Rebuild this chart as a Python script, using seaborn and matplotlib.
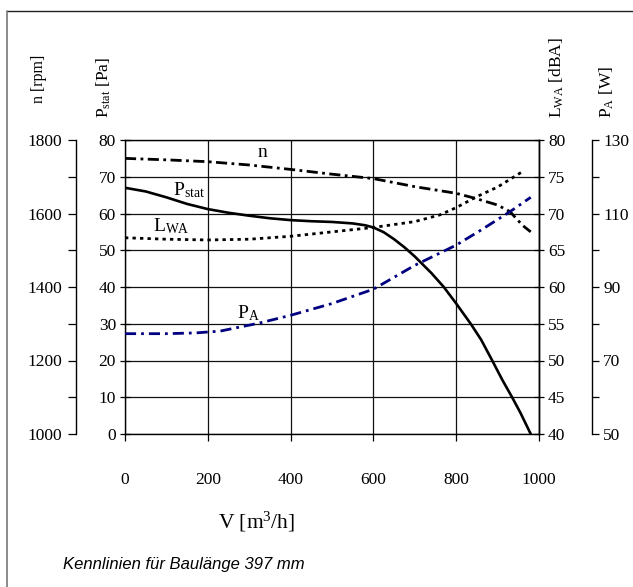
import numpy as np
import pandas as pd
import matplotlib
matplotlib.use("Agg")
import matplotlib.pyplot as plt
from matplotlib.ticker import FixedLocator
from matplotlib.lines import Line2D
import seaborn as sns

# ---------------- data ----------------
V_n = [0, 100, 200, 300, 400, 500, 600, 700, 800, 850, 900, 930, 960, 980]
n_rpm = [1750, 1746, 1741, 1732, 1720, 1707, 1695, 1673, 1655, 1640, 1623, 1605, 1568, 1550]

V_p = [0, 50, 100, 150, 200, 250, 300, 350, 400, 450, 500, 550, 580, 600, 625, 650, 675,
       700, 740, 770, 800, 835, 860, 887, 911, 935, 955, 980]
P_stat = [67.0, 66.0, 64.4, 62.6, 61.2, 60.2, 59.4, 58.7, 58.2, 57.9, 57.7, 57.3, 56.8, 56.2,
          54.9, 53.0, 50.8, 48.3, 43.8, 40.0, 35.5, 30.0, 25.7, 20.0, 14.8, 10.0, 5.8, 0.0]

V_L = [0, 100, 200, 300, 400, 500, 600, 700, 760, 800, 850, 900, 960]
L_WA = [66.7, 66.5, 66.4, 66.5, 66.9, 67.5, 68.1, 68.9, 69.8, 70.8, 72.3, 73.6, 75.7]

V_A = [0, 100, 170, 230, 325, 400, 500, 600, 700, 800, 860, 930, 980]
P_A = [77.3, 77.3, 77.5, 78.0, 80.2, 82.3, 85.5, 89.4, 95.9, 101.4, 105.5, 110.5, 114.4]

x_ticks = [0, 200, 400, 600, 800, 1000]
pstat_ticks = list(range(0, 81, 10))
lwa_ticks = list(range(40, 81, 5))
n_major = [1000, 1200, 1400, 1600, 1800]
n_minor = [1100, 1300, 1500, 1700]
pa_major = [50, 70, 90, 110, 130]
pa_minor = [60, 80, 100, 120]

# ---------------- style ----------------
sns.set_theme(style="white")
plt.rcParams["font.family"] = ["Liberation Serif", "DejaVu Serif"]
plt.rcParams["mathtext.fontset"] = "custom"
plt.rcParams["mathtext.rm"] = "Liberation Serif"
plt.rcParams["mathtext.it"] = "Liberation Serif:italic"
plt.rcParams["mathtext.default"] = "rm"
for k in ["text.color", "axes.labelcolor", "xtick.color", "ytick.color"]:
    plt.rcParams[k] = "black"

W, H = 633, 587
fig = plt.figure(figsize=(W / 100, H / 100), dpi=100)
fig.patch.set_facecolor("white")

left, right, top, bottom = 125, 539, 140, 434
ax = fig.add_axes([left / W, 1 - bottom / H, (right - left) / W, (bottom - top) / H])
ax.set_facecolor("none")

ax_L = ax.twinx()
ax_n = ax.twinx()
ax_A = ax.twinx()

tick_fs = 12.5

# main axis: P_stat
ax.set_xlim(0, 1000)
ax.set_ylim(0, 80)
ax.xaxis.set_major_locator(FixedLocator(x_ticks))
ax.yaxis.set_major_locator(FixedLocator(pstat_ticks))
ax.grid(True, color="#111111", linewidth=0.9)
for s in ax.spines.values():
    s.set_color("black")
    s.set_linewidth(1.0)
ax.tick_params(axis="y", direction="inout", length=7, width=0.9, color="black",
               labelsize=tick_fs, pad=3, left=True)
ax.tick_params(axis="x", direction="out", length=5, width=0.9, color="black",
               labelsize=tick_fs, pad=22, bottom=True)

# L_WA axis (right, at plot edge)
ax_L.set_ylim(40, 80)
ax_L.yaxis.set_major_locator(FixedLocator(lwa_ticks))
ax_L.tick_params(axis="y", direction="inout", length=7, width=0.9, color="black",
                 labelsize=tick_fs, pad=3, right=True)
for k in ["left", "top", "bottom"]:
    ax_L.spines[k].set_visible(False)
ax_L.spines["right"].set_linewidth(1.0)
ax_L.spines["right"].set_color("black")
ax_L.grid(False)

# n axis (outer left)
ax_n.set_ylim(1000, 1800)
ax_n.yaxis.set_ticks_position("left")
ax_n.yaxis.set_label_position("left")
ax_n.spines["left"].set_visible(True)
ax_n.spines["left"].set_position(("axes", (76 - left) / (right - left)))
ax_n.spines["left"].set_color("black")
ax_n.spines["left"].set_linewidth(1.0)
for k in ["right", "top", "bottom"]:
    ax_n.spines[k].set_visible(False)
ax_n.yaxis.set_major_locator(FixedLocator(n_major))
ax_n.yaxis.set_minor_locator(FixedLocator(n_minor))
ax_n.tick_params(axis="y", which="both", direction="out", length=6, width=0.9,
                 color="black", labelsize=tick_fs, pad=4, left=True, right=False)
ax_n.grid(False)

# P_A axis (outer right)
ax_A.set_ylim(50, 130)
ax_A.spines["right"].set_position(("axes", (592 - left) / (right - left)))
ax_A.spines["right"].set_color("black")
ax_A.spines["right"].set_linewidth(1.0)
for k in ["left", "top", "bottom"]:
    ax_A.spines[k].set_visible(False)
ax_A.yaxis.set_major_locator(FixedLocator(pa_major))
ax_A.yaxis.set_minor_locator(FixedLocator(pa_minor))
ax_A.tick_params(axis="y", which="both", direction="out", length=5, width=0.9,
                 color="black", labelsize=tick_fs, pad=3, right=True)
ax_A.grid(False)

# ---------------- curves ----------------
df_n = pd.DataFrame({"V": V_n, "val": n_rpm})
df_p = pd.DataFrame({"V": V_p, "val": P_stat})
df_L = pd.DataFrame({"V": V_L, "val": L_WA})
df_A = pd.DataFrame({"V": V_A, "val": P_A})

sns.lineplot(data=df_p, x="V", y="val", ax=ax, color="black", linewidth=1.9,
             linestyle="-", legend=False)
sns.lineplot(data=df_n, x="V", y="val", ax=ax_n, color="black", linewidth=2.0,
             linestyle=(0, (4.0, 1.6, 1.0, 1.6)), legend=False)
sns.lineplot(data=df_L, x="V", y="val", ax=ax_L, color="black", linewidth=2.0,
             linestyle=(0, (1.2, 1.5)), legend=False)
sns.lineplot(data=df_A, x="V", y="val", ax=ax_A, color="#000080", linewidth=2.0,
             linestyle=(0, (4.0, 1.8, 1.0, 1.8)), legend=False)

for a in [ax, ax_L, ax_n, ax_A]:
    a.set_xlabel("")
    a.set_ylabel("")
ax.set_xlim(0, 1000)

# curve labels
lab_fs = 14
ax.text(331, 76.5, "n", fontsize=lab_fs, ha="center", va="center")
ax.text(116, 66.3, r"$\mathrm{P_{stat}}$", fontsize=lab_fs, ha="left", va="center")
ax.text(68, 56.6, r"$\mathrm{L_{WA}}$", fontsize=lab_fs, ha="left", va="center")
ax.text(270, 33.0, r"$\mathrm{P_{A}}$", fontsize=lab_fs, ha="left", va="center")

# axis titles
fig.text(39 / W, 1 - 103 / H, "n [rpm]", rotation=90, ha="center", va="bottom", fontsize=11.5)
fig.text(104 / W, 1 - 118 / H, r"$\mathrm{P_{stat}}$ [Pa]", rotation=90, ha="center", va="bottom", fontsize=12.5)
fig.text(557 / W, 1 - 118 / H, r"$\mathrm{L_{WA}}$ [dBA]", rotation=90, ha="center", va="bottom", fontsize=12.5)
fig.text(607 / W, 1 - 118 / H, r"$\mathrm{P_{A}}$ [W]", rotation=90, ha="center", va="bottom", fontsize=12.5)

fig.text(257 / W, 1 - 522 / H, r"V [m$^{3}$/h]", ha="center", va="center", fontsize=15.5)

fig.text(63 / W, 1 - 565 / H, "Kennlinien für Baulänge 397 mm", ha="left", va="center",
         fontsize=12, style="italic", family=["Liberation Sans", "DejaVu Sans"])

# figure frame (top and left)
fig.add_artist(Line2D([7 / W, 1.0], [1 - 11 / H, 1 - 11 / H], transform=fig.transFigure,
                      color="#222222", linewidth=1.0))
fig.add_artist(Line2D([7 / W, 7 / W], [0.0, 1 - 11 / H], transform=fig.transFigure,
                      color="#777777", linewidth=1.2))

fig.savefig("out.png", dpi=100, facecolor="white")
